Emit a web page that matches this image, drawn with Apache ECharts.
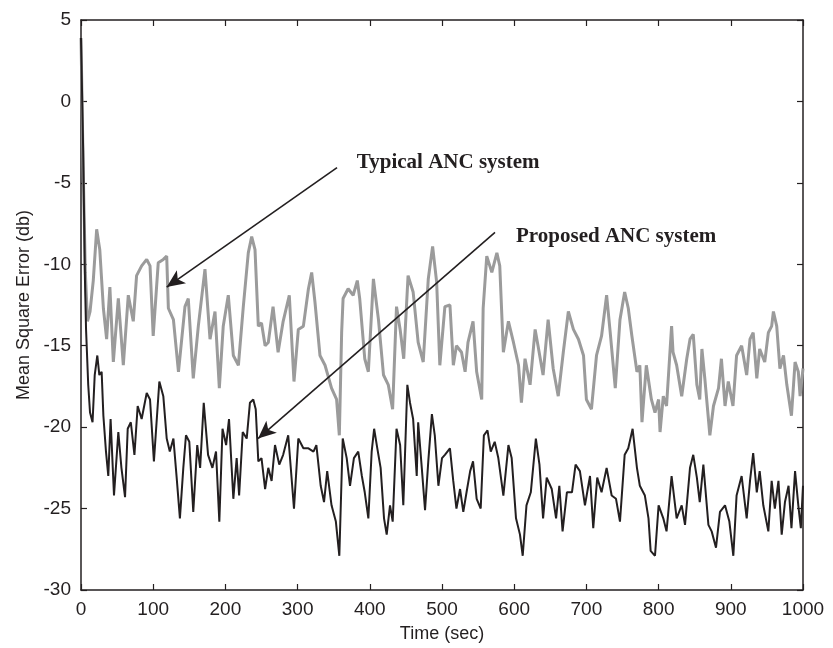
<!DOCTYPE html>
<html>
<head>
<meta charset="utf-8">
<script src="https://cdn.jsdelivr.net/npm/echarts@6/dist/echarts.min.js"></script>
<style>
html,body{margin:0;padding:0;background:#fff;}
#chart{width:833px;height:648px;}
</style>
</head>
<body>
<div id="chart"></div>
<script>
// Typical ANC system (gray)
const typicalTime = [0,3,6,9,12.5,17,21.7,26,31,35.5,40,44.8,51.7,58.6,65.5,72.4,77,84,91,95.6,100,107,114,118.7,121,128,135,144,148.6,155.5,162.5,171.7,178.7,185.6,191.6,197,204,211,218,224.8,231.7,236.4,241,245.6,250,255,259.4,266,273,280,288.5,295,301,308,315,319.5,324,331,338,347,354,357.8,361,363,370,377,382.7,386,393,398,405,412,419,425.6,431.6,437,442,447,453,460,467,474,481,487,492.6,497,504,511,515.7,520,527,532,536,543,548,555,557,562,569,576,580,585,592,599,606,610,615,622,629,633,640,647,654,661,668,675,682,689,696,700,707,714,721,728,733,740,746.5,753,758,763,770,774,777,783,790,795,800,802,806.5,811,818,820,825,832,839,843.5,848,853,857,860,864,869,871,876,883,887,892,896.5,903,908,915,922,926.6,931,936,940,947,952,956.6,959,963.6,968,973,977.6,984,989,993.5,996,1000];
const typicalMse = [3.9,-4,-10.5,-13.5,-12.9,-11,-7.85,-9.1,-12.7,-14.6,-11.4,-16.0,-12.1,-16.2,-11.9,-13.5,-10.7,-10.1,-9.7,-10.1,-14.4,-9.9,-9.7,-9.5,-12.7,-13.4,-16.6,-12.6,-12.1,-17.0,-13.8,-10.3,-14.6,-12.9,-17.6,-13.8,-11.9,-15.6,-16.2,-12.6,-9.3,-8.3,-9.1,-13.8,-13.6,-15.0,-14.8,-12.6,-15.4,-13.5,-11.9,-17.2,-14.0,-13.8,-11.5,-10.5,-12.3,-15.6,-16.2,-17.6,-18.3,-20.5,-14.2,-12.1,-11.5,-11.9,-11.0,-12.1,-15.8,-16.6,-10.9,-13.4,-16.8,-17.4,-18.9,-12.6,-14.0,-15.8,-10.7,-11.7,-14.8,-16.0,-10.9,-8.9,-11.1,-16.2,-12.6,-12.5,-16.2,-15.0,-15.4,-16.6,-14.8,-13.5,-16.6,-18.3,-12.7,-9.5,-10.5,-9.3,-10.1,-15.4,-13.5,-14.8,-16.2,-18.5,-15.8,-17.4,-14.0,-15.0,-16.8,-13.4,-16.4,-18.1,-15.4,-12.9,-14.0,-14.6,-15.6,-18.3,-18.9,-15.6,-14.4,-11.9,-14.2,-17.6,-13.4,-11.7,-12.7,-14.4,-16.6,-16.2,-19.7,-16.2,-18.3,-19.1,-18.3,-20.3,-18.1,-18.7,-13.8,-15.4,-16.2,-18.1,-15.8,-14.6,-14.3,-17.4,-18.3,-15.2,-17.0,-19.5,-20.5,-18.7,-17.6,-15.8,-18.7,-17.2,-18.7,-15.6,-15.0,-16.8,-14.6,-14.2,-17.0,-15.2,-16.0,-14.2,-13.8,-12.9,-13.8,-16.4,-15.6,-17.4,-19.3,-16.0,-16.6,-18.1,-16.4];

// Proposed ANC system (black)
const proposedTime = [0,3,5.5,7,10,12.5,16,19,22.6,25.4,28.6,31,34.6,37.8,41,45.7,51.7,56,61,64.7,69,74,78.5,84,91,95.6,101,108.5,114,118.7,123,128,132.5,137,141.7,145.4,150,155.5,161,165,170,176,182,187,191.6,196,201,205,211,215.6,219,224,229.5,234,238.6,242,245.6,250,255,259.4,264,268.7,274.6,280,287,295,301,308,315,322,326,332,336.6,341,347,353,357.8,362.5,368,372.6,378,384,389,393,398,402.6,406,410.4,415,419.7,423.4,428,431.7,437,442,446.4,452,455.7,460,465,467,472,476.5,481,486,490,495,500,504,511,515.6,520,525,529.5,534,539,543,548,553.6,558,563,567.5,573,578,585,592,596.5,602.5,608,611.8,617,623,630,635,640,645,652,658,662.5,667,673,680,685,691,698,705,709.5,715,721,728,735,741,746.5,753,758,764,770,774,781,786,789,795,800,806.5,811,818,825,832,836.6,843.5,848,853,857,862,869,873.5,879.5,885,892,898,903.5,908,915,922,926.6,931,936,940,945,952,956.6,961,966,970.5,975,980,984,989,993.5,997,1000];
const proposedMse = [3.9,-3,-11,-14,-17.4,-19.1,-19.7,-16.8,-15.6,-16.8,-16.6,-19.3,-21.5,-23.0,-19.5,-24.2,-20.3,-22.5,-24.3,-20.1,-19.7,-21.7,-18.7,-19.5,-17.9,-18.3,-22.1,-17.2,-18.1,-20.7,-21.5,-20.7,-23.1,-25.6,-22.5,-20.5,-20.9,-25.2,-21.1,-22.5,-18.5,-21.7,-22.5,-21.5,-25.8,-20.1,-21.1,-19.5,-24.4,-21.9,-24.2,-20.3,-20.7,-18.5,-18.3,-18.9,-22.1,-21.9,-23.8,-22.5,-23.3,-21.1,-22.3,-21.7,-20.5,-25.0,-20.7,-21.3,-21.3,-21.5,-21.1,-23.6,-24.6,-22.7,-24.8,-25.8,-27.9,-20.7,-21.9,-23.6,-21.9,-21.5,-23.0,-24.0,-25.6,-21.5,-20.1,-21.3,-22.5,-25.6,-26.6,-24.8,-25.8,-20.1,-21.1,-24.8,-17.4,-18.5,-19.5,-23.0,-19.7,-22.5,-25.1,-22.1,-19.2,-20.5,-23.6,-21.9,-21.7,-21.3,-23.3,-25.0,-23.8,-25.2,-24.0,-22.7,-22.1,-24.4,-25.0,-20.5,-20.2,-21.5,-20.9,-21.9,-24.2,-21.1,-21.9,-25.6,-26.6,-27.9,-24.8,-24.0,-20.7,-22.3,-25.6,-23.1,-23.8,-25.6,-23.6,-26.4,-24.0,-24.0,-22.3,-22.7,-24.8,-23.0,-26.2,-23.1,-24.0,-22.5,-24.2,-24.4,-25.8,-21.7,-21.3,-20.1,-22.5,-23.6,-24.2,-25.6,-27.6,-27.9,-24.8,-25.6,-26.4,-23.0,-25.6,-24.8,-26.0,-22.5,-21.7,-23.1,-24.6,-22.3,-26.0,-26.4,-27.4,-25.2,-24.8,-25.8,-27.9,-24.2,-23.0,-25.6,-23.3,-21.6,-24.0,-22.7,-24.8,-26.4,-23.3,-25.0,-23.3,-26.6,-24.6,-23.6,-26.2,-22.7,-24.8,-26.2,-23.6];

// Annotations: [label, arrow start, arrow tip] in data coordinates
const annotationLabels = ['Typical ANC system', 'Proposed ANC system'];
const arrowStarts = [[354.6, -4.06], [573.4, -8.04]];
const arrowTips = [[118.7, -11.4], [245.2, -20.7]];
const labelAnchors = [[382, -3.75], [602.5, -8.3]];

const xTicks = {min: 0, max: 1000, interval: 100};
const yTicks = {min: -30, max: 5, interval: 5};

const ink = '#231f20';
const sans = '"Liberation Sans", Arial, Helvetica, sans-serif';

const chart = echarts.init(document.getElementById('chart'), null, {renderer: 'canvas'});

function axisCommon(showLabels) {
  return {
    axisLine: {show: true, onZero: false, lineStyle: {color: ink, width: 1.5}},
    axisTick: {show: true, inside: true, length: 6, lineStyle: {color: ink, width: 1.2}},
    axisLabel: {show: showLabels, color: ink, fontFamily: sans, fontSize: 19, margin: 10,
      formatter: v => String(v)},
    splitLine: {show: false}
  };
}

chart.setOption({
  animation: false,
  backgroundColor: '#fff',
  grid: {left: 81, right: 30, top: 20, bottom: 57, containLabel: false},
  xAxis: [
    Object.assign({type: 'value', position: 'bottom', min: xTicks.min, max: xTicks.max, interval: xTicks.interval,
      name: 'Time (sec)', nameLocation: 'middle', nameGap: 35,
      nameTextStyle: {color: ink, fontFamily: sans, fontSize: 18}}, axisCommon(true)),
    Object.assign({type: 'value', position: 'top', min: xTicks.min, max: xTicks.max, interval: xTicks.interval}, axisCommon(false))
  ],
  yAxis: [
    Object.assign({type: 'value', position: 'left', min: yTicks.min, max: yTicks.max, interval: yTicks.interval,
      name: 'Mean Square Error (db)', nameLocation: 'middle', nameGap: 48,
      nameTextStyle: {color: ink, fontFamily: sans, fontSize: 18}}, axisCommon(true)),
    Object.assign({type: 'value', position: 'right', min: yTicks.min, max: yTicks.max, interval: yTicks.interval}, axisCommon(false))
  ],
  series: [
    {
      name: annotationLabels[0], type: 'line', xAxisIndex: 0, yAxisIndex: 0,
      data: typicalTime.map((t, i) => [t, typicalMse[i]]),
      showSymbol: false, symbol: 'none', smooth: false,
      lineStyle: {color: '#9b9b9b', width: 3},
      z: 2
    },
    {
      name: annotationLabels[1], type: 'line', xAxisIndex: 0, yAxisIndex: 0,
      data: proposedTime.map((t, i) => [t, proposedMse[i]]),
      showSymbol: false, symbol: 'none', smooth: false,
      lineStyle: {color: ink, width: 2},
      z: 3,
      markLine: {
        silent: true, animation: false,
        symbol: ['none', 'arrow'], symbolSize: [12, 18],
        label: {show: false},
        lineStyle: {color: ink, width: 1.6, type: 'solid'},
        data: arrowStarts.map((s, i) => [{coord: s}, {coord: arrowTips[i]}])
      },
      markPoint: {
        silent: true, animation: false,
        symbol: 'circle', symbolSize: 0,
        data: labelAnchors.map((c, i) => ({
          coord: c,
          label: {
            show: true, position: 'right', distance: 0,
            formatter: annotationLabels[i],
            color: ink, fontFamily: '"Liberation Serif", "Times New Roman", serif',
            fontWeight: 'bold', fontSize: 21
          }
        }))
      }
    }
  ]
});
</script>
</body>
</html>
